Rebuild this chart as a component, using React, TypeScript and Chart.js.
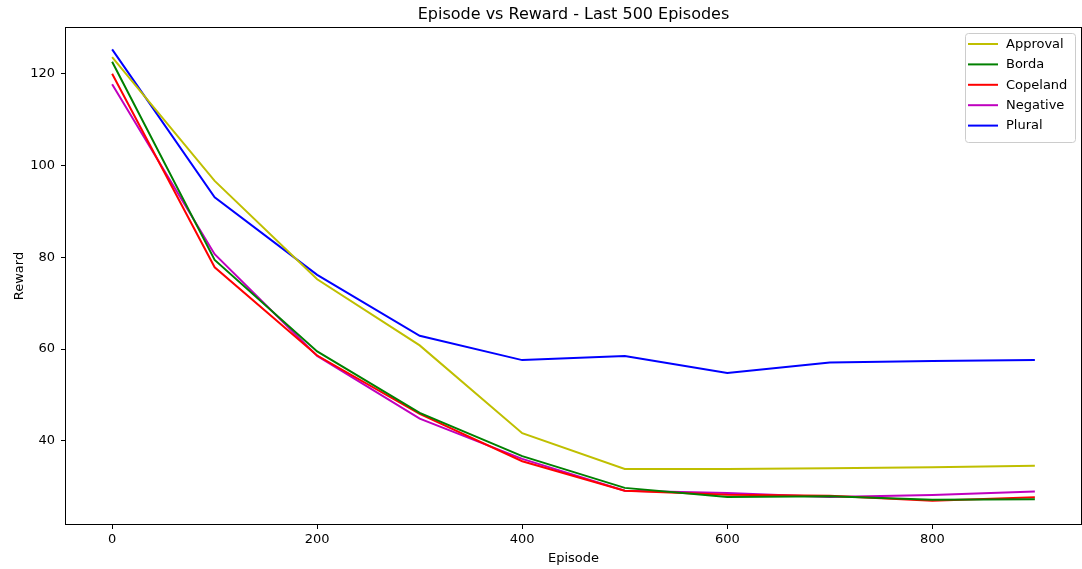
import React, { useEffect, useRef } from "react";
import { Chart, registerables } from "chart.js";

Chart.register(...registerables);

// Episode checkpoints (x axis)
const episodes = [0, 100, 200, 300, 400, 500, 600, 700, 800, 900];

// Reward per voting method
const approval = [123.5, 96.6, 75.2, 60.8, 41.7, 33.9, 33.9, 34.05, 34.3, 34.6];
const borda = [122.5, 79.4, 59.5, 46.1, 36.7, 29.8, 27.8, 28.0, 27.2, 27.3];
const copeland = [119.9, 77.8, 58.6, 45.9, 35.6, 29.2, 28.3, 28.1, 27.0, 27.75];
const negative = [117.6, 80.65, 58.5, 44.85, 36.1, 29.2, 28.7, 27.8, 28.25, 29.0];
const plural = [125.2, 93.0, 76.15, 62.9, 57.6, 58.5, 54.8, 57.1, 57.4, 57.6];

const seriesNames = ["Approval", "Borda", "Copeland", "Negative", "Plural"];
const seriesColors = ["#bfbf00", "#008000", "#ff0000", "#bf00bf", "#0000ff"];

const xTicks = [0, 200, 400, 600, 800];
const yTicks = [40, 60, 80, 100, 120];

const titleText = "Episode vs Reward - Last 500 Episodes";
const xLabel = "Episode";
const yLabel = "Reward";

const FONT = "'DejaVu Sans', sans-serif";

const decorations = {
  id: "decorations",
  afterDraw(chart: any) {
    const { ctx, chartArea } = chart;
    const { left, right, top, bottom } = chartArea;
    ctx.save();
    // axes frame
    ctx.strokeStyle = "#000";
    ctx.lineWidth = 1;
    ctx.strokeRect(left - 0.5, top - 0.5, right - left + 1, bottom - top + 1);

    ctx.fillStyle = "#000";
    // title
    ctx.font = `16px ${FONT}`;
    ctx.textAlign = "center";
    ctx.textBaseline = "alphabetic";
    ctx.fillText(titleText, (left + right) / 2, top - 9);

    // axis labels
    ctx.font = `13px ${FONT}`;
    ctx.fillText(xLabel, (left + right) / 2, 562);
    ctx.save();
    ctx.translate(23, (top + bottom) / 2);
    ctx.rotate(-Math.PI / 2);
    ctx.fillText(yLabel, 0, 0);
    ctx.restore();

    // legend
    const datasets = chart.data.datasets;
    const bx = 965;
    const by = 33;
    const bw = 110;
    const rowH = 20.4;
    const bh = 8 + rowH * datasets.length - 1;
    ctx.fillStyle = "rgba(255,255,255,0.8)";
    ctx.strokeStyle = "#cccccc";
    ctx.lineWidth = 1;
    ctx.beginPath();
    (ctx as any).roundRect(bx + 0.5, by + 0.5, bw, bh, 3);
    ctx.fill();
    ctx.stroke();
    ctx.font = `13px ${FONT}`;
    ctx.textAlign = "left";
    ctx.textBaseline = "middle";
    datasets.forEach((ds: any, i: number) => {
      const cy = by + 11 + i * rowH;
      ctx.strokeStyle = ds.borderColor;
      ctx.lineWidth = 2;
      ctx.beginPath();
      ctx.moveTo(bx + 3, cy);
      ctx.lineTo(bx + 33, cy);
      ctx.stroke();
      ctx.fillStyle = "#000";
      ctx.fillText(ds.label, bx + 41, cy + 0.5);
    });
    ctx.restore();
  },
};

export default function App() {
  const canvasRef = useRef<HTMLCanvasElement | null>(null);

  useEffect(() => {
    if (!canvasRef.current) return;
    const allSeries = [approval, borda, copeland, negative, plural];
    const chart = new Chart(canvasRef.current, {
      type: "line",
      data: {
        datasets: allSeries.map((vals, i) => ({
          label: seriesNames[i],
          data: vals.map((v, j) => ({ x: episodes[j], y: v })),
          borderColor: seriesColors[i],
          backgroundColor: seriesColors[i],
          borderWidth: 2,
          pointRadius: 0,
          tension: 0,
          fill: false,
        })),
      },
      options: {
        animation: false,
        responsive: false,
        devicePixelRatio: 1,
        layout: { padding: { top: 28, left: 0, right: 1, bottom: 0 } },
        plugins: {
          legend: { display: false },
          title: { display: false },
          tooltip: { enabled: false },
        },
        scales: {
          x: {
            type: "linear",
            min: -45,
            max: 945,
            afterBuildTicks: (scale: any) => {
              scale.ticks = xTicks.map((v) => ({ value: v }));
            },
            afterFit: (scale: any) => {
              scale.height = 45;
            },
            grid: {
              drawOnChartArea: false,
              drawTicks: true,
              tickLength: 5,
              color: "#000",
            },
            border: { display: false },
            ticks: {
              color: "#000",
              font: { family: FONT, size: 13 },
              padding: 3,
              maxRotation: 0,
            },
          },
          y: {
            type: "linear",
            min: 21.94,
            max: 129.86,
            afterBuildTicks: (scale: any) => {
              scale.ticks = yTicks.map((v) => ({ value: v }));
            },
            afterFit: (scale: any) => {
              scale.width = 66;
            },
            grid: {
              drawOnChartArea: false,
              drawTicks: true,
              tickLength: 5,
              color: "#000",
            },
            border: { display: false },
            ticks: {
              color: "#000",
              font: { family: FONT, size: 13 },
              padding: 6,
            },
          },
        },
      },
      plugins: [decorations],
    });
    return () => chart.destroy();
  }, []);

  return (
    <div style={{ position: "absolute", left: 0, top: 0, width: 1082, height: 569, background: "#fff" }}>
      <canvas ref={canvasRef} width={1082} height={569} style={{ display: "block" }} />
    </div>
  );
}
